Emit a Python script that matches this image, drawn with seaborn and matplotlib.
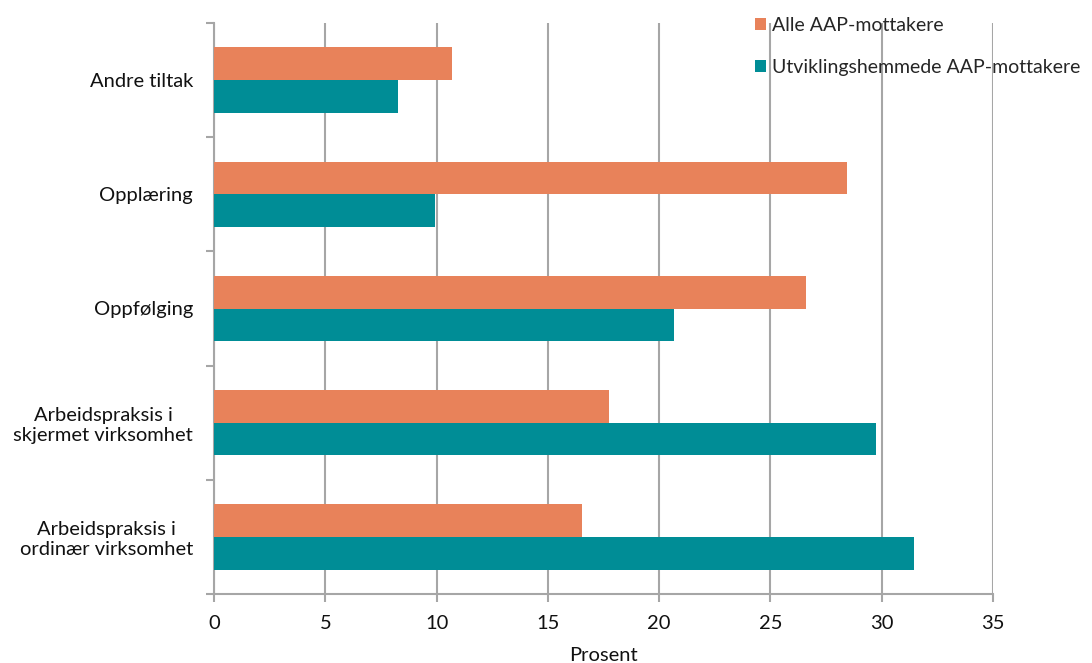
import matplotlib
matplotlib.use("Agg")
import matplotlib.pyplot as plt
from matplotlib.patches import Patch
import numpy as np
import pandas as pd
import seaborn as sns

# Tiltak for AAP-mottakere, andel i prosent
categories = [
    "Andre tiltak",
    "Opplæring",
    "Oppfølging",
    "Arbeidspraksis i\nskjermet virksomhet",
    "Arbeidspraksis i\nordinær virksomhet",
]
series_names = ["Alle AAP-mottakere", "Utviklingshemmede AAP-mottakere"]
alle = [10.7, 28.45, 26.6, 17.75, 16.55]
utviklingshemmede = [8.25, 9.95, 20.65, 29.75, 31.45]
x_ticks = [0, 5, 10, 15, 20, 25, 30, 35]
x_label = "Prosent"

colors = ["#E8825A", "#008D96"]
grid_gray = "#A6A6A6"
text_color = "#111111"
fs = 14.5

df = pd.DataFrame({
    "Tiltak": categories * 2,
    "Gruppe": [series_names[0]] * len(categories) + [series_names[1]] * len(categories),
    "Prosent": alle + utviklingshemmede,
})

sns.set_theme(style="white")
plt.rcParams["font.family"] = ["Lato", "DejaVu Sans"]

fig = plt.figure(figsize=(10.92, 6.63), dpi=100)
ax = fig.add_axes([214 / 1092, 1 - 594 / 663, (993 - 214) / 1092, (594 - 23) / 663])

sns.barplot(
    data=df, y="Tiltak", x="Prosent", hue="Gruppe",
    order=categories, hue_order=series_names,
    palette=colors, orient="h", width=0.571, gap=0,
    errorbar=None, ax=ax, legend=False, saturation=1,
    edgecolor="none", zorder=3,
)

ax.set_xlim(0, 35)
ax.set_ylim(len(categories) - 0.5, -0.5)
ax.set_xticks(x_ticks)
ax.set_xticklabels([str(t) for t in x_ticks])
ax.xaxis.grid(True, color=grid_gray, linewidth=1.5, zorder=0)
ax.yaxis.grid(False)
ax.set_axisbelow(True)

# category boundaries carry the tick marks, labels sit between them
ax.set_yticks(np.arange(len(categories)))
ax.set_yticklabels(categories)
ax.set_yticks(np.arange(-0.5, len(categories)), minor=True)
ax.tick_params(axis="y", which="major", length=0, pad=15, labelsize=fs, colors=text_color)
ax.tick_params(axis="y", which="minor", length=6, width=1.5, color=grid_gray, left=True)
ax.tick_params(axis="x", which="major", length=6, width=1.5, color=grid_gray,
               bottom=True, pad=9, labelsize=fs, labelcolor=text_color)
for lbl in ax.get_yticklabels():
    lbl.set_multialignment("center")

for side in ["top", "right"]:
    ax.spines[side].set_visible(False)
for side in ["left", "bottom"]:
    ax.spines[side].set_color(grid_gray)
    ax.spines[side].set_linewidth(1.5)

ax.set_ylabel("")
ax.set_xlabel(x_label, fontsize=fs, color=text_color, labelpad=11)

handles = [Patch(facecolor=c, edgecolor="none") for c in colors]
fig.legend(
    handles, series_names, loc="upper left", bbox_to_anchor=(742 / 1092, 1 - 4 / 663),
    frameon=False, fontsize=14, handlelength=0.6, handleheight=0.6,
    handletextpad=0.3, labelspacing=1.3, borderaxespad=0.25,
)

fig.savefig("out.png", dpi=100)
